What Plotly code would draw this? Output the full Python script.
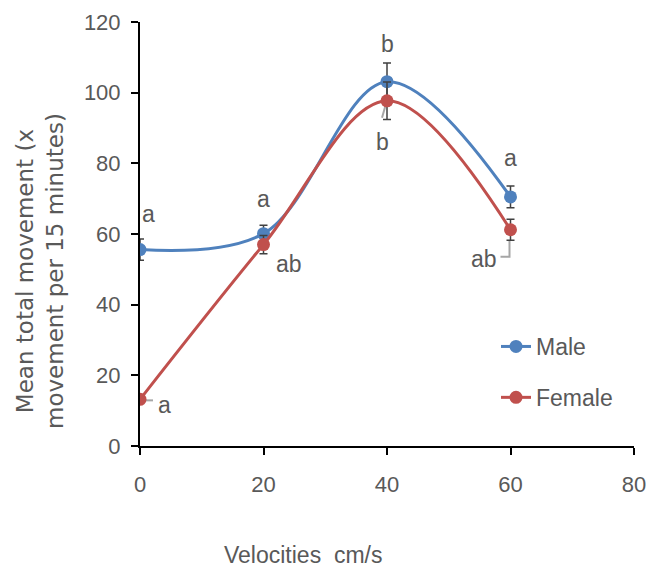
import plotly.graph_objects as go

velocity = [0, 20, 40, 60]
male = [55.6, 60.1, 103.1, 70.5]
male_err = [3.0, 2.4, 5.3, 3.1]
female = [13.2, 57.0, 97.7, 61.2]
female_err = [1.0, 2.6, 5.3, 3.0]
male_letters = ["a", "a", "b", "a"]
female_letters = ["a", "ab", "b", "ab"]
x_ticks = [0, 20, 40, 60, 80]
y_ticks = [0, 20, 40, 60, 80, 100, 120]

BLUE = "#4F81BD"
RED = "#C0504D"
GRAY = "#595959"
FONT = "Liberation Sans, Arial, sans-serif"

# plot area in pixels (for placing paper-referenced items)
L, R, T, B = 140, 634, 22, 446
def px(xp):
    return (xp - L) / (R - L)
def py(yp):
    return (B - yp) / (B - T)

fig = go.Figure()
fig.add_trace(go.Scatter(
    x=velocity, y=male, name="Male", mode="lines+markers",
    line=dict(color=BLUE, width=3, shape="spline", smoothing=1.0),
    marker=dict(color=BLUE, size=13),
    error_y=dict(type="data", array=male_err, visible=True, color="#404040", thickness=1.5, width=4),
    legendgroup="m",
))
fig.add_trace(go.Scatter(
    x=velocity, y=female, name="Female", mode="lines+markers",
    line=dict(color=RED, width=3, shape="spline", smoothing=1.0),
    marker=dict(color=RED, size=13),
    error_y=dict(type="data", array=female_err, visible=True, color="#404040", thickness=1.5, width=4),
    legendgroup="f",
))

# significance letters
male_shift = [(8, 36), (0, 35), (0, 38), (0, 39)]
female_shift = [(24, -6), (25, -19), (-5, -41), (-27, -29)]
for xv, yv, t, (dx, dy) in zip(velocity, male, male_letters, male_shift):
    fig.add_annotation(x=xv, y=yv, text=t, showarrow=False, xshift=dx, yshift=dy,
                       font=dict(family=FONT, size=23, color=GRAY))
for xv, yv, t, (dx, dy) in zip(velocity, female, female_letters, female_shift):
    fig.add_annotation(x=xv, y=yv, text=t, showarrow=False, xshift=dx, yshift=dy,
                       font=dict(family=FONT, size=23, color=GRAY))

# leader lines (pixel offsets from the data point)
leaders = [
    (0, "M0,-1 L13,-1"),
    (2, "M-1,-3 L-5,-17"),
    (3, "M-1,-11 L-1,-27 L-10,-27"),
]
for i, p in leaders:
    fig.add_shape(type="path", xref="x", yref="y", xsizemode="pixel", ysizemode="pixel",
                  xanchor=velocity[i], yanchor=female[i], path=p,
                  line=dict(color="#A6A6A6", width=2), layer="below")

fig.add_annotation(x=px(40), y=py(271), xref="paper", yref="paper",
                   text="Mean total movement (x<br>movement per 15 minutes)",
                   textangle=-90, showarrow=False, xanchor="center", yanchor="middle",
                   font=dict(family="DejaVu Sans, Liberation Sans, sans-serif", size=23, color=GRAY))
fig.add_annotation(x=px(303), y=py(555), xref="paper", yref="paper",
                   text="Velocities  cm/s", showarrow=False, xanchor="center", yanchor="middle",
                   font=dict(family=FONT, size=23, color=GRAY))

fig.update_layout(
    width=662, height=569,
    margin=dict(l=L, r=662 - R, t=T, b=569 - B, autoexpand=False),
    paper_bgcolor="white", plot_bgcolor="white",
    showlegend=True,
    legend=dict(x=px(496), y=py(325), xref="paper", yref="paper", xanchor="left", yanchor="top",
                font=dict(family=FONT, size=23, color=GRAY), tracegroupgap=18,
                bgcolor="rgba(0,0,0,0)"),
    xaxis=dict(range=[0, 80], tickvals=x_ticks, showline=True, linecolor="black", linewidth=2,
               ticks="outside", ticklen=7, tickwidth=2, tickcolor="black", showgrid=False,
               zeroline=False, tickfont=dict(family=FONT, size=22, color=GRAY),
               ticklabelstandoff=11),
    yaxis=dict(range=[0, 120], tickvals=y_ticks, showline=True, linecolor="black", linewidth=2,
               ticks="outside", ticklen=7, tickwidth=2, tickcolor="black", showgrid=False,
               zeroline=False, tickfont=dict(family=FONT, size=22, color=GRAY),
               ticklabelstandoff=6),
)
fig.write_html("out.html")
